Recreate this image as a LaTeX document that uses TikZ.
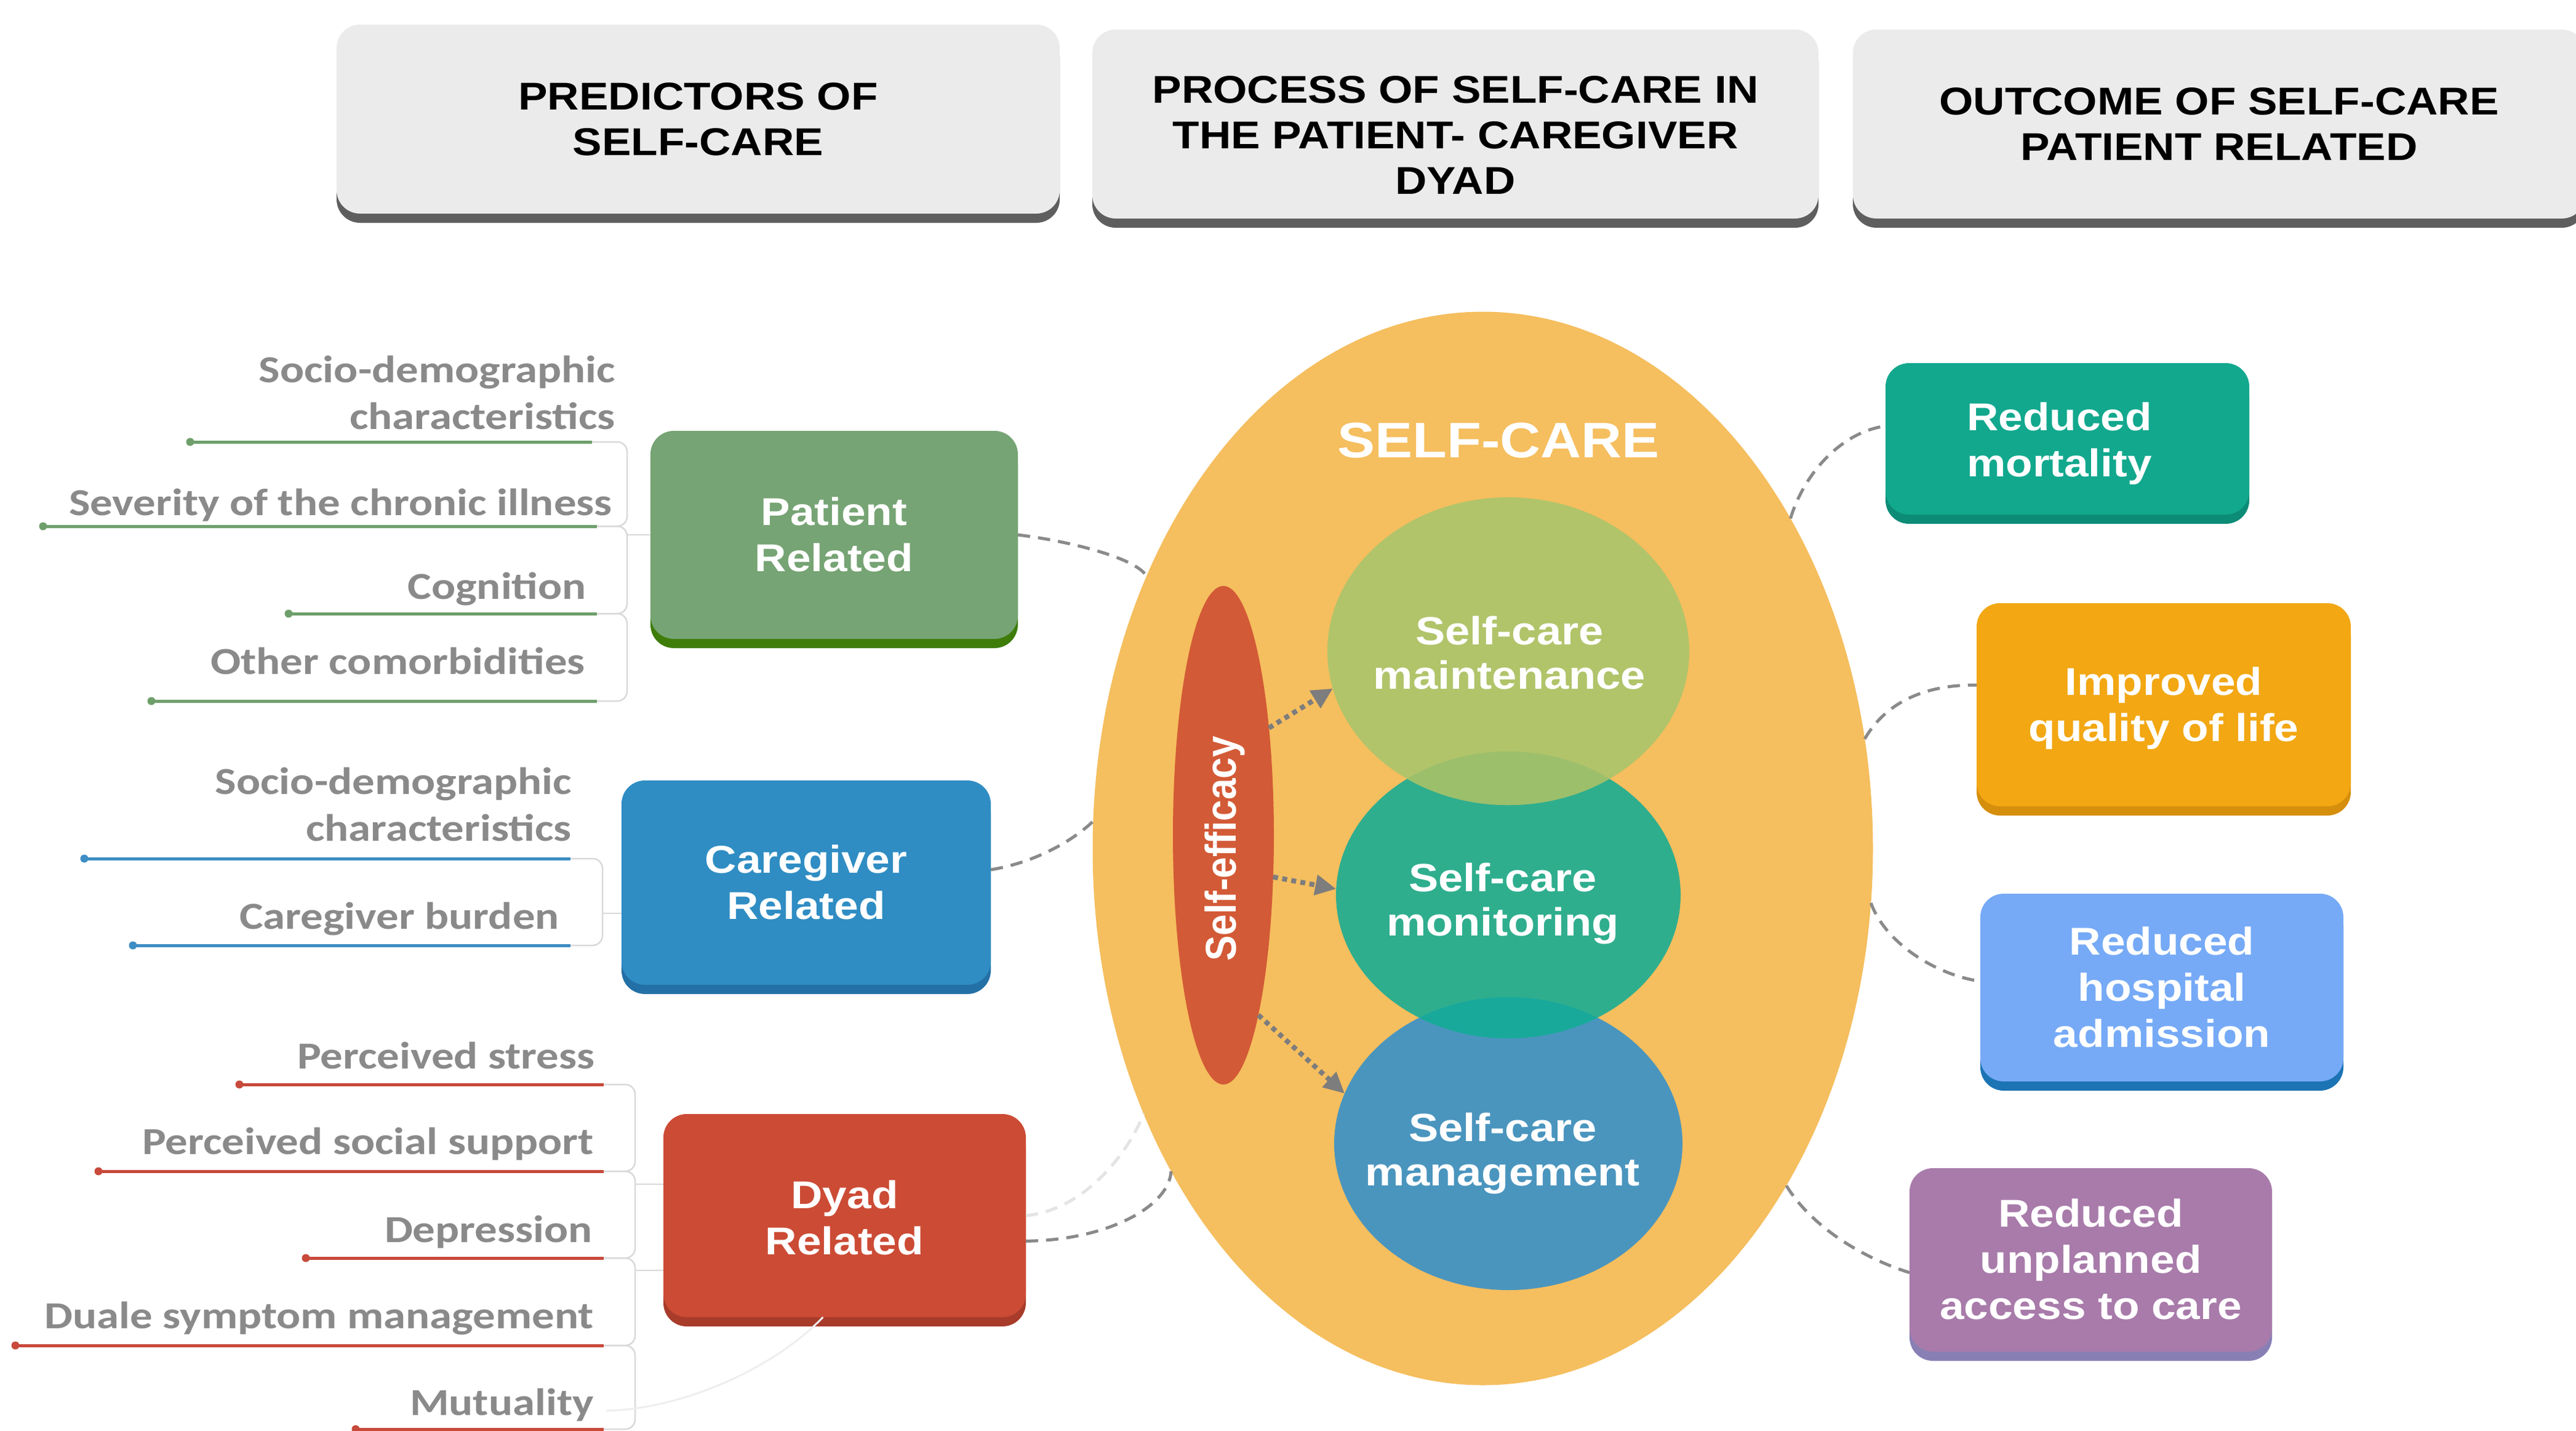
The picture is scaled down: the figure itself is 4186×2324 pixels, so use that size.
\documentclass[tikz,border=0pt]{standalone}
\usepackage{fontspec}
\usepackage{graphicx}
\usetikzlibrary{shapes.geometric,arrows.meta,shadows}
\newfontfamily\hvb{Liberation Sans}[FakeStretch=1.13]
\newfontfamily\hvn{Liberation Sans}
\newfontfamily\cbr{Carlito}[FakeStretch=1.175]
\newcommand{\mlc}[1]{\begin{tabular}[t]{@{}c@{}}#1\end{tabular}}
\newcommand{\mlr}[1]{\begin{tabular}[t]{@{}r@{}}#1\end{tabular}}
\definecolor{hdrfill}{HTML}{EBEBEB}
\definecolor{hdrshad}{HTML}{5E5E5E}
\definecolor{patfill}{HTML}{76A474}
\definecolor{patshad}{HTML}{3E7D0A}
\definecolor{cgfill}{HTML}{2F8DC3}
\definecolor{cgshad}{HTML}{2370A6}
\definecolor{dyfill}{HTML}{CC4B35}
\definecolor{dyshad}{HTML}{A83B2A}
\definecolor{mortfill}{HTML}{12A88E}
\definecolor{mortshad}{HTML}{0C8C76}
\definecolor{qualfill}{HTML}{F2A713}
\definecolor{qualshad}{HTML}{D68F0C}
\definecolor{hospfill}{HTML}{76AAF6}
\definecolor{hospshad}{HTML}{1C74B4}
\definecolor{unpfill}{HTML}{A87BAA}
\definecolor{unpshad}{HTML}{8880B5}
\definecolor{bigfill}{HTML}{F5BE5E}
\definecolor{efffill}{HTML}{D35A36}
\definecolor{mainfill}{HTML}{B1C46A}
\definecolor{monfill}{HTML}{2FAE8E}
\definecolor{mgmtfill}{HTML}{4A95BE}
\definecolor{ovA}{HTML}{9CBF6B}
\definecolor{ovB}{HTML}{18A99B}
\definecolor{dashgray}{HTML}{8A8A8A}
\definecolor{arrgray}{HTML}{7D7D7D}
\definecolor{lblgray}{HTML}{8A8A8A}
\definecolor{leafgreen}{HTML}{6E9F6B}
\definecolor{leafblue}{HTML}{3D8EC4}
\definecolor{leafred}{HTML}{C84A3B}
\definecolor{brkgray}{HTML}{D9D9D9}
\definecolor{faintgray}{HTML}{E4E4E4}
\definecolor{faintergray}{HTML}{EEEEEE}
\newcommand{\leaf}[4]{\draw[line width=5pt,#1] (#2,#4) -- (#3,#4); \fill[#1] (#2,#4) circle (6.5pt);}
\begin{document}
\begin{tikzpicture}[x=1pt,y=-1pt,
  hbox/.style 2 args={rectangle, rounded corners=38pt, inner sep=0pt, outer sep=0pt,
     fill=#1, general shadow={fill=#2, shadow yshift=-15pt}},
  hdrtxt/.style={font={\hvb\bfseries\fontsize{63}{74}\selectfont}, text=black, text height=66pt},
  boxtxt/.style={font={\hvb\bfseries\fontsize{63}{75}\selectfont}, text=white, text height=66pt},
  ctxt/.style={font={\hvb\bfseries\fontsize{64}{72}\selectfont}, text=white, inner sep=0pt, anchor=base},
  lbl/.style={font={\cbr\bfseries\fontsize{62}{76}\selectfont}, text=lblgray, inner sep=0pt, anchor=base east},
  ell/.style={ellipse, inner sep=0pt, outer sep=0pt},
  brk/.style={draw=brkgray, line width=2.5pt, rounded corners=16pt},
  dashc/.style={draw=dashgray, line width=5pt, dash pattern=on 20pt off 13pt},
  faintc/.style={draw=faintgray, line width=5pt, dash pattern=on 20pt off 13pt},
  faintl/.style={draw=faintergray, line width=3pt},
  dotarr/.style={draw=arrgray, line width=8pt, dash pattern=on 8pt off 7pt, -{Triangle[length=34pt,width=32pt]}}
]
\path[use as bounding box, fill=white] (0,0) rectangle (4186,2324);

% ---------- header boxes ----------
\node[hbox={hdrfill}{hdrshad}, minimum width=1175pt, minimum height=307pt, hdrtxt] (h1) at (1134.5,193.5) {\mlc{PREDICTORS OF\\SELF-CARE}};
\node[hbox={hdrfill}{hdrshad}, minimum width=1180pt, minimum height=307pt, hdrtxt, text height=103pt] (h2) at (2365,201.5) {\mlc{PROCESS OF SELF-CARE IN\\THE PATIENT- CAREGIVER\\DYAD}};
\node[hbox={hdrfill}{hdrshad}, minimum width=1190pt, minimum height=307pt, hdrtxt] (h3) at (3606,201.5) {\mlc{OUTCOME OF SELF-CARE\\PATIENT RELATED}};

% ---------- predictor boxes ----------
\node[hbox={patfill}{patshad}, minimum width=597pt, minimum height=338pt, boxtxt] (pat) at (1355.5,869) {\mlc{Patient\\Related}};
\node[hbox={cgfill}{cgshad}, minimum width=600pt, minimum height=332pt, boxtxt] (cg) at (1310,1434) {\mlc{Caregiver\\Related}};
\node[hbox={dyfill}{dyshad}, minimum width=589pt, minimum height=330pt, boxtxt, text height=74pt] (dy) at (1372.5,1975) {\mlc{Dyad\\Related}};

% ---------- outcome boxes ----------
\node[hbox={mortfill}{mortshad}, minimum width=591pt, minimum height=246pt, boxtxt, text height=70pt] (mort) at (3359.5,713) {\mlc{Reduced\\mortality}\hspace*{26pt}};
\node[hbox={qualfill}{qualshad}, minimum width=608pt, minimum height=330pt, boxtxt] (qual) at (3516,1145) {\mlc{Improved\\quality of life}};
\node[hbox={hospfill}{hospshad}, minimum width=590pt, minimum height=305pt, boxtxt] (hosp) at (3513,1604.5) {\mlc{Reduced\\hospital\\admission}};
\node[hbox={unpfill}{unpshad}, minimum width=589pt, minimum height=298pt, boxtxt] (unp) at (3397.5,2047) {\mlc{Reduced\\unplanned\\access to care}};

% ---------- patient related leaves ----------
\leaf{leafgreen}{309}{962}{718}
\leaf{leafgreen}{70}{970}{855}
\leaf{leafgreen}{469}{970}{997}
\leaf{leafgreen}{246}{970}{1139}
\draw[brk] (962,718) -- (1019,718) -- (1019,855) -- (970,855);
\draw[brk] (970,855) -- (1019,855) -- (1019,997) -- (970,997);
\draw[brk] (970,997) -- (1019,997) -- (1019,1139) -- (970,1139);
\draw[brk] (pat.west) -- ++(-38,0);
\node[lbl] (p1) at (1000,621) {\mlr{Socio-demographic\\characteristics}};
\node[lbl] (p2) at (995,837) {Severity of the chronic illness};
\node[lbl] (p3) at (953,973) {Cognition};
\node[lbl] (p4) at (951,1095) {Other comorbidities};

% ---------- caregiver related leaves ----------
\leaf{leafblue}{137}{927}{1395}
\leaf{leafblue}{216}{927}{1536}
\draw[brk] (927,1395) -- (979,1395) -- (979,1536) -- (927,1536);
\coordinate (cgS) at (979,1484);
\draw[brk] (cgS) -- (cgS -| cg.west);
\node[lbl] (c1) at (929,1290) {\mlr{Socio-demographic\\characteristics}};
\node[lbl] (c2) at (909,1509) {Caregiver burden};

% ---------- dyad related leaves ----------
\leaf{leafred}{389}{981}{1762}
\leaf{leafred}{160}{981}{1903}
\leaf{leafred}{497}{981}{2044}
\leaf{leafred}{25}{981}{2186}
\leaf{leafred}{578}{981}{2322}
\draw[brk] (981,1762) -- (1032,1762) -- (1032,1903) -- (981,1903);
\draw[brk] (981,1903) -- (1032,1903) -- (1032,2044) -- (981,2044);
\draw[brk] (981,2044) -- (1032,2044) -- (1032,2186) -- (981,2186);
\draw[brk] (981,2186) -- (1032,2186) -- (1032,2322) -- (981,2322);
\coordinate (dyS1) at (1032,1924);
\coordinate (dyS2) at (1032,2064);
\draw[brk] (dyS1) -- (dyS1 -| dy.west);
\draw[brk] (dyS2) -- (dyS2 -| dy.west);
\node[lbl] (d1) at (967,1736) {Perceived stress};
\node[lbl] (d2) at (965,1875) {Perceived social support};
\node[lbl] (d3) at (963,2018) {Depression};
\node[lbl] (d4) at (965,2158) {Duale symptom management};
\node[lbl] (d5) at (965,2299) {Mutuality};
\coordinate (mutE) at (985,2292);
\draw[faintl] (mutE) .. controls (1100,2290) and (1250,2230) .. (dy.258);

% ---------- self-care ellipse ----------
\node[ell, fill=bigfill, minimum width=1268pt, minimum height=1744pt] (big) at (2409.5,1378.5) {};
\node[ell, fill=efffill, minimum width=164pt, minimum height=810pt] (eff) at (1988,1357) {};
\node[ell, fill=mgmtfill, minimum width=566pt, minimum height=476pt] (mgmtC) at (2451,1858) {};
\node[ell, fill=monfill, minimum width=560pt, minimum height=466pt] (monC) at (2451,1454) {};
\node[ell, fill=mainfill, minimum width=588pt, minimum height=500pt] (mainC) at (2451,1058) {};
\begin{scope}
  \clip (monC.center) ellipse [x radius=280pt, y radius=233pt];
  \fill[ovA] (mainC.center) ellipse [x radius=294pt, y radius=250pt];
\end{scope}
\begin{scope}
  \clip (mgmtC.center) ellipse [x radius=283pt, y radius=238pt];
  \fill[ovB] (monC.center) ellipse [x radius=280pt, y radius=233pt];
\end{scope}
\node[font={\hvb\bfseries\fontsize{81}{81}\selectfont}, text=white, inner sep=0pt, anchor=base] (sc) at (2435,743) {SELF-CARE};
\node[rotate=90, text=white, inner sep=0pt, font={\hvn\bfseries\fontsize{62}{62}\selectfont}] (efft) at (1990,1379) {\scalebox{1}[1.13]{Self-efficacy}};
\node[ctxt] (mainT) at (2453,1047) {\mlc{Self-care\\maintenance}};
\node[ctxt] (monT) at (2442,1448) {\mlc{Self-care\\monitoring}};
\node[ctxt] (mgmtT) at (2442,1854) {\mlc{Self-care\\management}};

% ---------- dotted arrows ----------
\draw[dotarr] (eff.67) -- (mainC.192);
\draw[dotarr] (eff.-40) -- (monC.178);
\draw[dotarr] (eff.-79) -- (mgmtC.163);

% ---------- dashed connectors ----------
\draw[dashc] (pat.east) .. controls (1730,878) and (1845,905) .. (big.141);
\draw[dashc] (cg.4.5) .. controls (1690,1400) and (1750,1360) .. (big.176);
\draw[faintc] (dy.east) .. controls (1770,1965) and (1840,1860) .. (big.218);
\draw[dashc] (dy.352) .. controls (1800,2015) and (1900,1960) .. (big.226);
\draw[dashc] (big.47) .. controls (2935,760) and (3000,700) .. (mort.176);
\draw[dashc] (big.16.5) .. controls (3065,1140) and (3130,1112) .. (qual.174);
\draw[dashc] (big.352.6) .. controls (3065,1535) and (3150,1585) .. (hosp.178);
\draw[dashc] (big.312.6) .. controls (2945,1995) and (3030,2045) .. (unp.184);
\end{tikzpicture}
\end{document}
